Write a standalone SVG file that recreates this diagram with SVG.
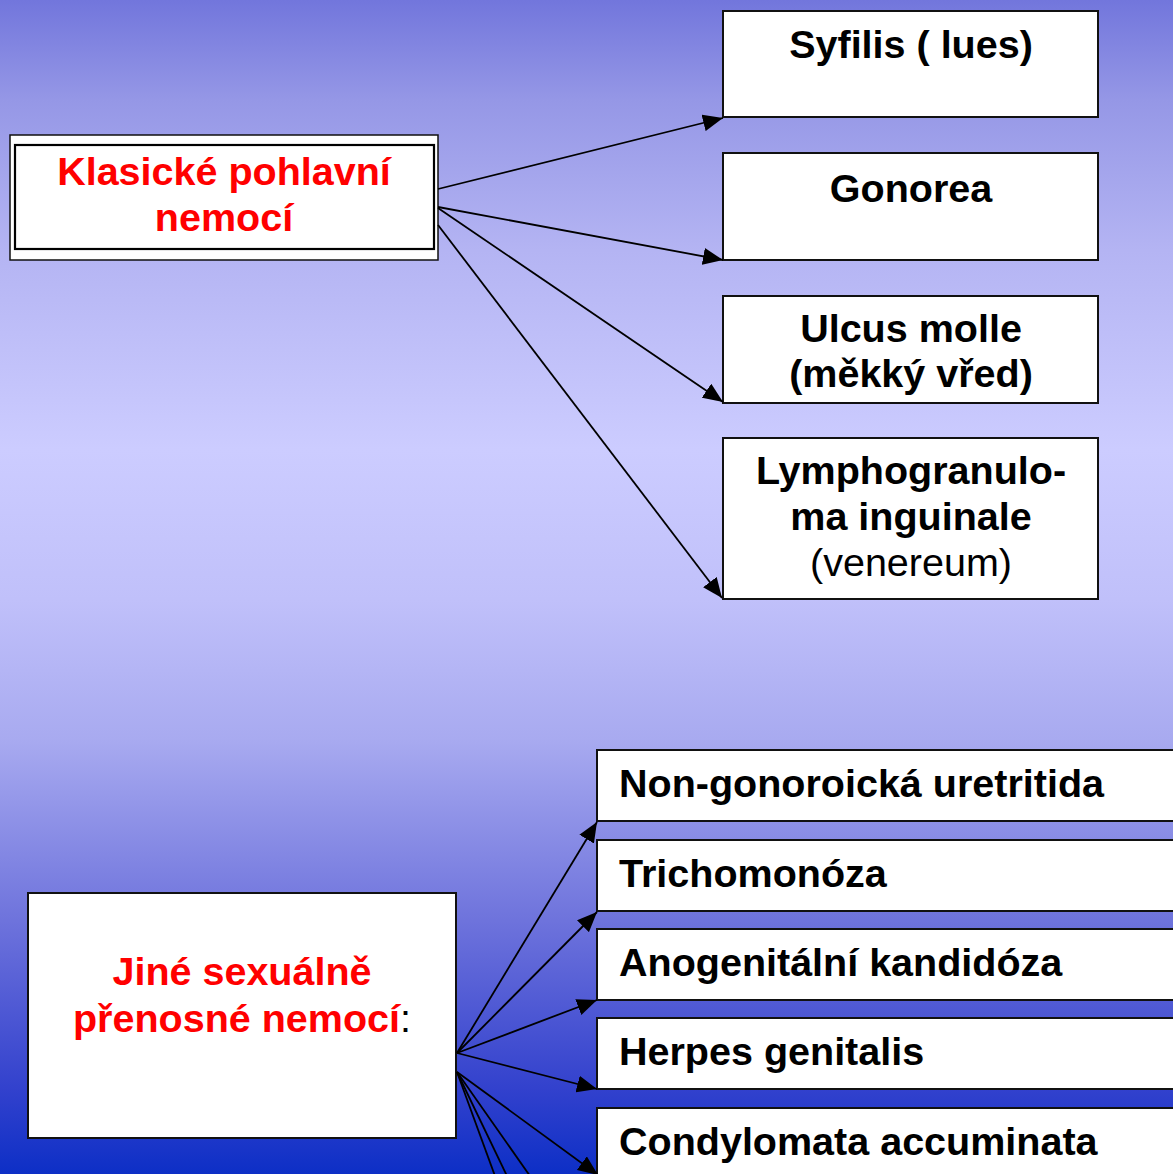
<svg xmlns="http://www.w3.org/2000/svg" width="1173" height="1174" viewBox="0 0 1173 1174">
  <defs>
    <linearGradient id="bg" x1="0" y1="0" x2="0" y2="1">
      <stop offset="0" stop-color="#7276dc"/>
      <stop offset="0.085" stop-color="#9597e6"/>
      <stop offset="0.213" stop-color="#b4b4f3"/>
      <stop offset="0.383" stop-color="#ccccff"/>
      <stop offset="0.511" stop-color="#c0c0fa"/>
      <stop offset="0.63" stop-color="#a8aaf0"/>
      <stop offset="0.784" stop-color="#6e73dc"/>
      <stop offset="0.928" stop-color="#3241cd"/>
      <stop offset="1" stop-color="#0d2fc6"/>
    </linearGradient>
    <marker id="arr" markerUnits="userSpaceOnUse" viewBox="0 0 20 17" markerWidth="20" markerHeight="17" refX="20" refY="8.5" orient="auto">
      <path d="M0,0 L20,8.5 L0,17 z" fill="#000"/>
    </marker>
    <style>
      .box { fill: #fff; stroke: #111; stroke-width: 2; }
      .t { font-family: "Liberation Sans", Arial, sans-serif; font-size: 39.5px; font-weight: bold; fill: #000; }
      .c { text-anchor: middle; }
      .red { fill: #ff0000; }
      .reg { font-weight: normal; }
      .con line { stroke: #000; stroke-width: 1.8; }
      .con line.a { marker-end: url(#arr); }
    </style>
  </defs>
  <rect x="0" y="0" width="1173" height="1174" fill="url(#bg)"/>

  <g id="klasicke">
    <rect x="10" y="135" width="428" height="125" fill="#fff" stroke="#111" stroke-width="1.5"/>
    <rect x="15" y="145" width="419" height="104" fill="#fff" stroke="#000" stroke-width="2.2"/>
    <text class="t c red" x="224" y="185">Klasické pohlavní</text>
    <text class="t c red" x="224" y="231">nemocí</text>
  </g>

  <g id="syfilis">
    <rect class="box" x="723" y="11" width="375" height="106"/>
    <text class="t c" x="911" y="58">Syfilis ( lues)</text>
  </g>
  <g id="gonorea">
    <rect class="box" x="723" y="153" width="375" height="107"/>
    <text class="t c" x="911" y="202">Gonorea</text>
  </g>
  <g id="ulcus">
    <rect class="box" x="723" y="296" width="375" height="107"/>
    <text class="t c" x="911" y="342">Ulcus molle</text>
    <text class="t c" x="911" y="387">(měkký vřed)</text>
  </g>
  <g id="lympho">
    <rect class="box" x="723" y="438" width="375" height="161"/>
    <text class="t c" x="911" y="484">Lymphogranulo-</text>
    <text class="t c" x="911" y="530">ma inguinale</text>
    <text class="t c reg" x="911" y="576">(venereum)</text>
  </g>

  <g id="jine">
    <rect class="box" x="28" y="893" width="428" height="245"/>
    <text class="t c" x="242" y="985"><tspan class="red">Jiné sexuálně</tspan></text>
    <text class="t c" x="242" y="1032"><tspan class="red">přenosné nemocí</tspan><tspan class="reg">:</tspan></text>
  </g>

  <g id="nongono">
    <rect class="box" x="597" y="750" width="590" height="71"/>
    <text class="t" x="619" y="797">Non-gonoroická uretritida</text>
  </g>
  <g id="tricho">
    <rect class="box" x="597" y="840" width="590" height="71"/>
    <text class="t" x="619" y="887">Trichomonóza</text>
  </g>
  <g id="kandidoza">
    <rect class="box" x="597" y="929" width="590" height="71"/>
    <text class="t" x="619" y="976">Anogenitální kandidóza</text>
  </g>
  <g id="herpes">
    <rect class="box" x="597" y="1018" width="590" height="71"/>
    <text class="t" x="619" y="1065">Herpes genitalis</text>
  </g>
  <g id="condylomata">
    <rect class="box" x="597" y="1108" width="590" height="80"/>
    <text class="t" x="619" y="1155">Condylomata accuminata</text>
  </g>

  <g id="connectors" class="con">
    <line class="a" x1="438" y1="189" x2="723" y2="118"/>
    <line class="a" x1="438" y1="207" x2="723" y2="260"/>
    <line class="a" x1="438" y1="208" x2="723" y2="402"/>
    <line class="a" x1="438" y1="225" x2="722" y2="598"/>
    <line class="a" x1="457" y1="1053" x2="597" y2="822"/>
    <line class="a" x1="457" y1="1053" x2="597" y2="912"/>
    <line class="a" x1="457" y1="1053" x2="597" y2="1000"/>
    <line class="a" x1="457" y1="1053" x2="597" y2="1089"/>
    <line class="a" x1="457" y1="1072" x2="598" y2="1175"/>
    <line x1="457" y1="1072" x2="530" y2="1176"/>
    <line x1="457" y1="1072" x2="507" y2="1176"/>
    <line x1="457" y1="1072" x2="495" y2="1176"/>
  </g>
</svg>
